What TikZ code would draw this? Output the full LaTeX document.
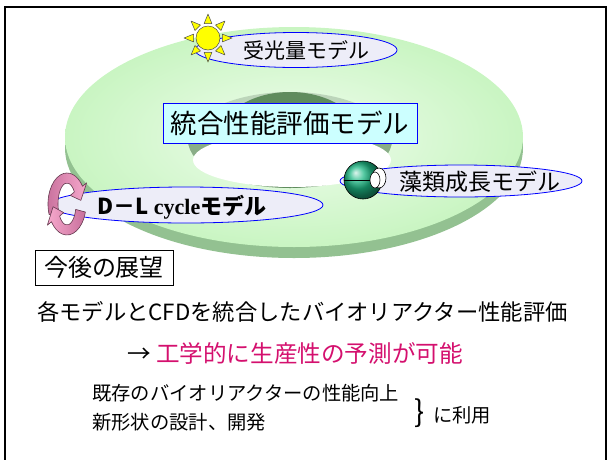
\documentclass[tikz,border=0pt]{standalone}
\usepackage{fontspec}
\setmainfont{Noto Sans CJK JP}
\newfontfamily\romanbf{Liberation Serif}
\usetikzlibrary{shapes.geometric, positioning, calc}
\definecolor{mTorusTop}{HTML}{C9F5C2}
\definecolor{mTorusLight}{HTML}{F0FDEE}
\definecolor{mTorusSide}{HTML}{93C191}
\definecolor{mHoleTop}{HTML}{5F8C5D}
\definecolor{mHoleBottom}{HTML}{BCD5BA}
\definecolor{mBoxCyan}{HTML}{CCFFFF}
\definecolor{mLabelFill}{HTML}{EDEDF8}
\definecolor{mSun}{HTML}{FFFF00}
\definecolor{mCell}{HTML}{1DB884}
\definecolor{mPinkLight}{HTML}{F6A8CC}
\definecolor{mPinkDark}{HTML}{C8709C}
\definecolor{mMagenta}{HTML}{D4106E}

\begin{document}
\begin{tikzpicture}[x=1pt, y=-1pt,
    model/.style={ellipse, draw=blue, line width=0.8pt, fill=mLabelFill, inner sep=0pt},
    modeltext/.style={font=\fontsize{21}{24}\selectfont, inner sep=0pt},
    bodytext/.style={anchor=west, inner sep=0pt, font=\fontsize{22.3}{26}\selectfont},
    smalltext/.style={anchor=west, inner sep=0pt, font=\fontsize{19.3}{22}\selectfont},
    sunray/.style={fill=mSun, draw=black!70, line width=0.5pt, line join=round},
    cyclearrow/.style={draw=mPinkDark!50!black, line width=0.6pt, line join=round}
]
    \path[use as bounding box] (0,0) rectangle (608,459);
    \clip (0,0) rectangle (608,459);
    \draw[line width=2pt] (5,7) rectangle (606,475);

    % torus: side band, top face
    \fill[mTorusSide] (294,148) ellipse[x radius=229, y radius=110];
    \shade[inner color=mTorusLight, outer color=mTorusTop] (294,137) ellipse[x radius=229, y radius=110];

    % inner wall of the hole, darker towards the far rim
    \fill[mHoleBottom] (290,140) ellipse[x radius=102, y radius=48];
    \fill[mHoleTop!55!mHoleBottom] (188,140) arc[start angle=180, end angle=0, x radius=102, y radius=48] -- cycle;
    \fill[mHoleTop] (290,140) ellipse[x radius=72, y radius=48];
    \fill[white] (292,160) ellipse[x radius=99, y radius=27];

    \node[draw=blue, line width=0.8pt, fill=mBoxCyan, minimum width=254, minimum height=40, inner sep=0pt,
        font=\fontsize{26.5}{30}\selectfont] (integrated) at (290,123) {統合性能評価モデル};

    % model labels
    \node[model, minimum width=202, minimum height=35] (light) at (296,50) {};
    \node[modeltext] (lighttxt) at (306,50) {受光量モデル};
    \node[model, minimum width=242, minimum height=32] (algae) at (461,181) {};
    \node[modeltext, font=\fontsize{23}{26}\selectfont] (algaetxt) at (480,182) {藻類成長モデル};
    \node[model, minimum width=274, minimum height=36] (dl) at (186,205) {};
    \node[modeltext, font=\fontsize{22}{24}\selectfont\bfseries] (dltxt) at (182,207) {D－L {\romanbf cycle}モデル};

    % sun
    \begin{scope}[shift={(208,38)}]
        \foreach \a in {0,45,...,315}
            \draw[sunray] (\a-15:15) -- (\a:24) -- (\a+15:15) -- cycle;
        \draw[sunray] (0,0) circle[radius=12];
    \end{scope}

    % algae cell
    \shadedraw[ball color=mCell, draw=black, line width=0.6pt] (363,180) circle[radius=19];
    \draw[line width=0.6pt] (344,180) -- (372,180);
    \draw[fill=white, line width=0.6pt] (379,178) ellipse[x radius=7, y radius=10];
    \draw[fill=white, line width=0.6pt] (375,180) ellipse[x radius=5, y radius=8];

    % day-night cycle arrows
    \begin{scope}[shift={(67,204)}, yscale=-1]
        \path[cyclearrow, left color=mPinkDark, right color=mPinkLight]
            (200:19 and 31) arc[start angle=200, end angle=35, x radius=19, y radius=31]
            -- (35:24 and 37) -- (8:14 and 26) -- (35:4 and 15) -- (35:9 and 21)
            arc[start angle=35, end angle=200, x radius=9, y radius=21] -- cycle;
        \path[cyclearrow, left color=mPinkLight, right color=mPinkDark]
            (-15:19 and 31) arc[start angle=-15, end angle=-145, x radius=19, y radius=31]
            -- (-145:24 and 37) -- (-174:14 and 26) -- (-145:4 and 15) -- (-145:9 and 21)
            arc[start angle=-145, end angle=-15, x radius=9, y radius=21] -- cycle;
    \end{scope}

    % outlook
    \node[draw, line width=0.8pt, minimum width=138, minimum height=35, inner sep=0pt,
        font=\fontsize{24}{28}\selectfont] (outlook) at (104,267.5) {今後の展望};
    \node[bodytext] (plan) at (37,312) {各モデルとCFDを統合したバイオリアクター性能評価};
    \node[bodytext, font=\fontsize{23.6}{26}\selectfont] (result) at (127,353)
        {→ \textcolor{mMagenta}{工学的に生産性の予測が可能}};
    \node[smalltext] (improve) at (92,393) {既存のバイオリアクターの性能向上};
    \node[smalltext] (design) at (92,422) {新形状の設計、開発};
    \node[inner sep=0pt, font=\fontsize{30}{30}\selectfont] (brace) at (420,413) {\}};
    \node[smalltext] (use) at (433,415) {に利用};
\end{tikzpicture}
\end{document}
